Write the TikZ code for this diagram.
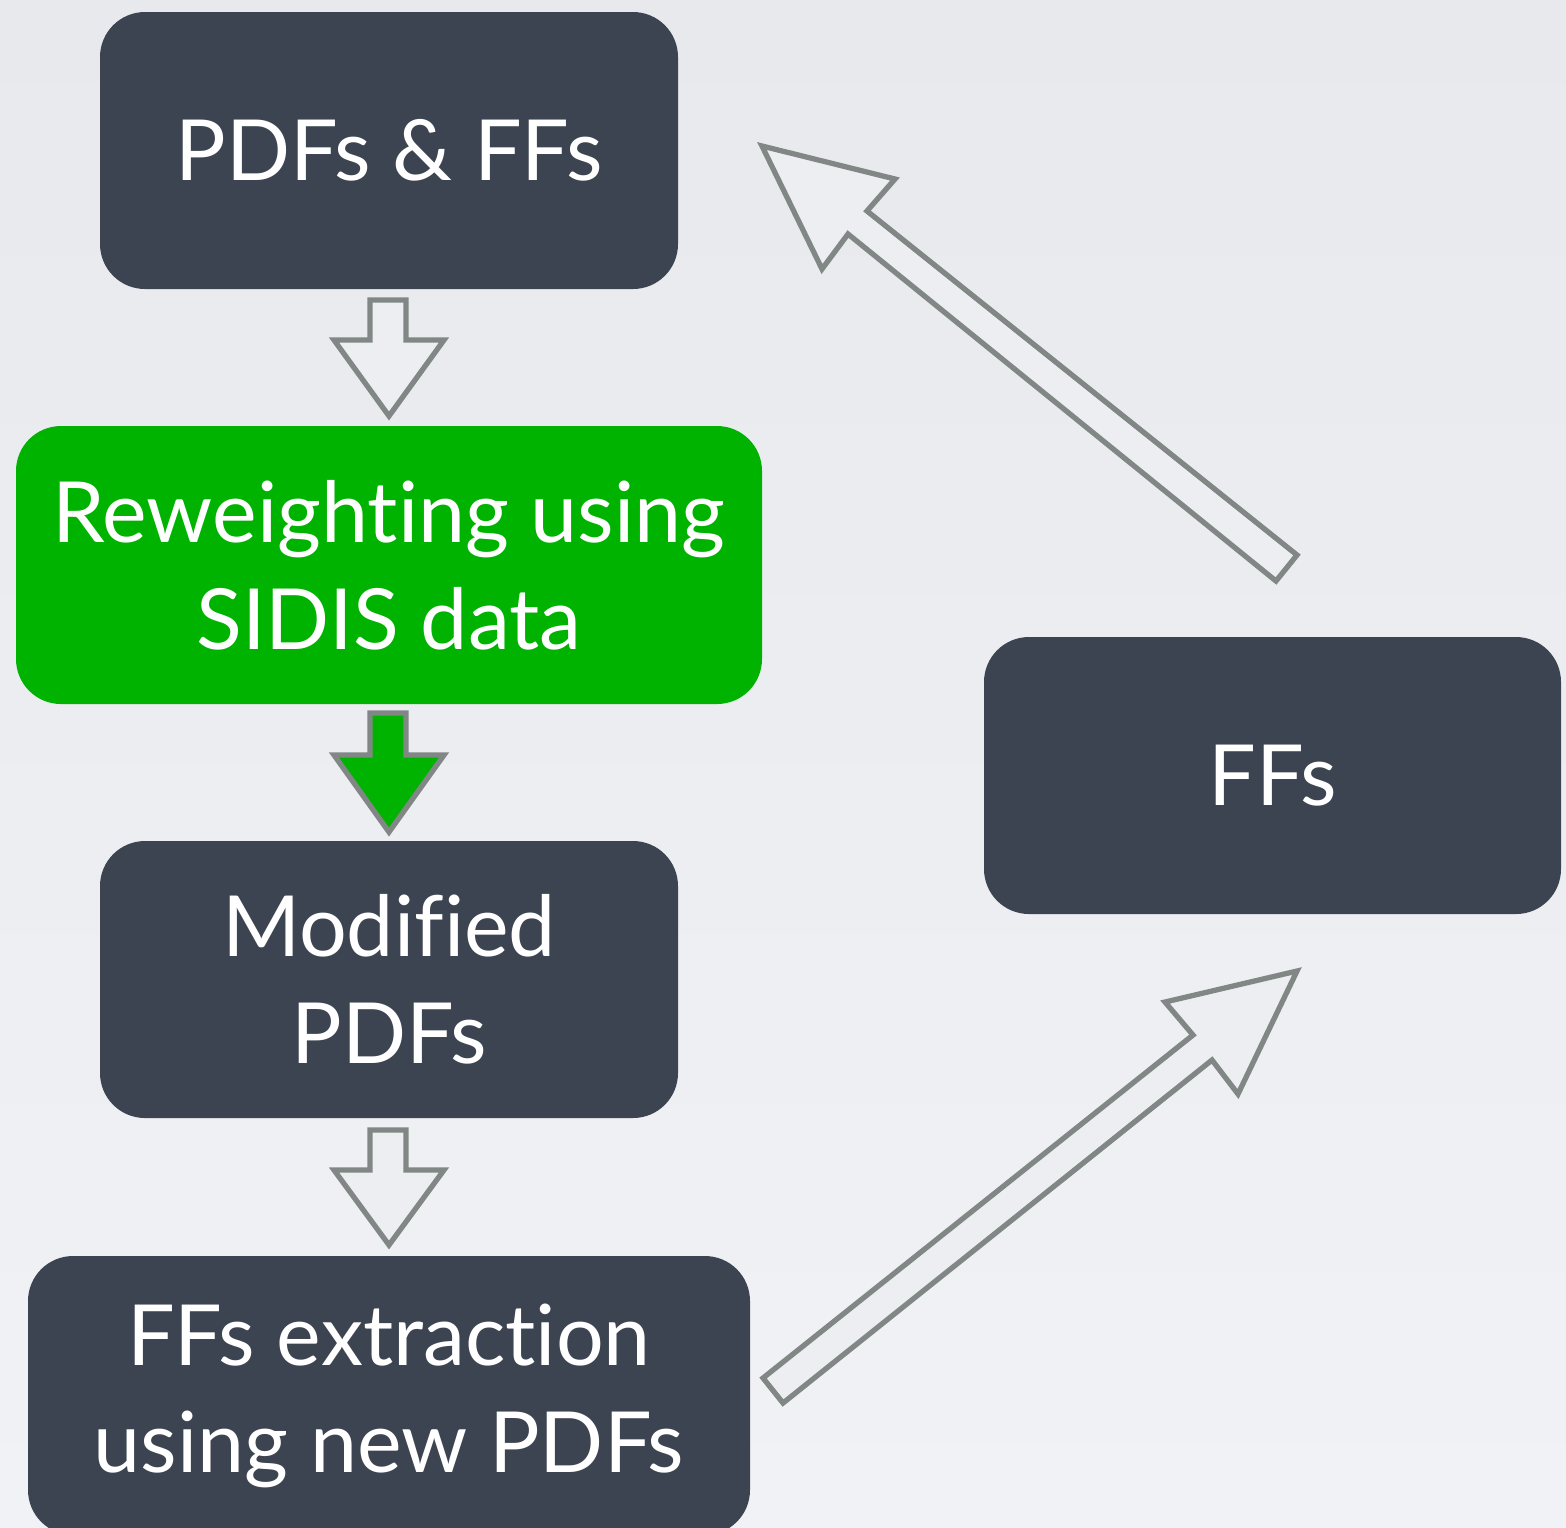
\documentclass[tikz,border=0pt]{standalone}
\usepackage{fontspec}
\setmainfont[Ligatures=NoCommon]{Lato}
\definecolor{bgtop}{RGB}{231,233,237}
\definecolor{bgbot}{RGB}{241,242,245}
\definecolor{boxdark}{RGB}{61,68,81}
\definecolor{boxgreen}{RGB}{0,179,0}
\definecolor{arrgray}{RGB}{128,135,133}
\definecolor{bgmid}{RGB}{236,238,241}
\begin{document}
\begin{tikzpicture}[x=0.1mm,y=-0.1mm,
  box/.style={rectangle, rounded corners=4.5mm, fill=boxdark, text=white, align=center,
    font=\fontsize{24}{30.4}\selectfont, inner sep=0pt},
  greenbox/.style={box, fill=boxgreen},
  hollow/.style={draw=arrgray, line width=1.5pt, fill=bgmid, line join=miter},
  solidarr/.style={draw=arrgray, line width=1.5pt, fill=boxgreen, line join=miter}]
\useasboundingbox (0,0) rectangle (1566,1527);
\shade[top color=bgtop, bottom color=bgbot] (0,0) rectangle (1566,1527);
\begin{scope}
\clip (0,0) rectangle (1566,1527);
\node[box, minimum width=57.8mm, minimum height=27.7mm] (pdfsffs) at (389,150.5) {PDFs \& FFs};
\node[greenbox, minimum width=74.6mm, minimum height=27.8mm] (rew) at (389,565) {Reweighting using\\SIDIS data};
\node[box, minimum width=57.8mm, minimum height=27.7mm] (mod) at (389,979.5) {Modified\\PDFs};
\node[box, minimum width=72.2mm, minimum height=27.9mm] (ext) at (389,1395.5) {FFs extraction\\using new PDFs};
\node[box, minimum width=57.7mm, minimum height=27.7mm] (ffs) at (1272.5,775.5) {FFs};
\end{scope}
% block arrows
\draw[hollow] (370,300) -- (406,300) -- (406,340) -- (444,340) -- (389,416) -- (334,340) -- (370,340) -- cycle;
\draw[solidarr] (370,713) -- (406,713) -- (406,755) -- (444,755) -- (389,832) -- (334,755) -- (370,755) -- cycle;
\draw[hollow] (370,1130) -- (406,1130) -- (406,1170) -- (444,1170) -- (389,1245) -- (334,1170) -- (370,1170) -- cycle;
\draw[hollow] (762,146) -- (895,179) -- (867,211) -- (1297,555) -- (1276,581) -- (848,234) -- (822,269) -- cycle;
\draw[hollow] (1297,971) -- (1238,1094) -- (1212,1060) -- (783,1403) -- (763,1378) -- (1193,1035) -- (1165,1002) -- cycle;
\end{tikzpicture}
\end{document}
